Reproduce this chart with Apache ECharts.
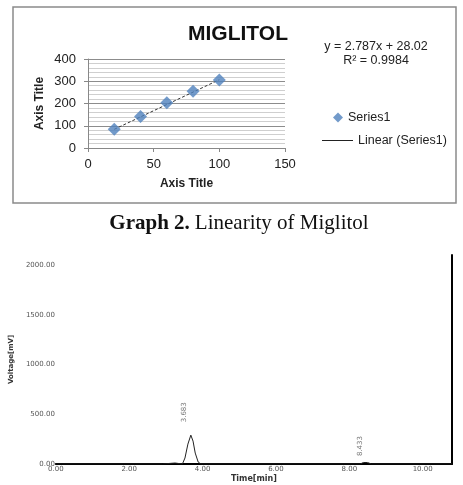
<!DOCTYPE html>
<html>
<head>
<meta charset="utf-8">
<script src="https://cdn.jsdelivr.net/npm/echarts@6/dist/echarts.min.js"></script>
<style>
    html, body {margin: 0; padding: 0; background: #fff;}
    #chart {width: 463px; height: 485px;}
</style>
</head>
<body>
<div id="chart"></div>
<script>
// linearity data (concentration vs area)
var concentration = [20, 40, 60, 80, 100];
var peakArea = [84, 142, 203, 255, 306];
// trendline ends as drawn
var trendX = [20, 100];
var trendY = [84, 307];

// chromatogram trace, time in min, voltage in mV
var traceTime = [0, 2.9, 2.95, 3.25, 3.3, 3.45, 3.52, 3.6, 3.68, 3.74, 3.8, 3.88, 3.95, 8.3, 8.38, 8.43, 8.5, 8.6, 10.8];
var traceVolt = [0, 0, 10, 10, 0, 0, 60, 200, 290, 230, 110, 20, 0, 0, 15, 25, 15, 0, 0];
var peakTimes = [3.5, 8.3];
var peakLabelY = [520, 180];
var peakNames = ['3.683', '8.433'];

var chart = echarts.init(document.getElementById('chart'));

function makePoints(xs, ys) {
    var out = [];
    for (var i = 0; i < xs.length; i++) {
        out.push([xs[i], ys[i]]);
    }
    return out;
}

var sans = '"Liberation Sans", Arial, sans-serif';
var chromFont = '"DejaVu Sans", sans-serif';
var serif = '"Liberation Serif", "Times New Roman", serif';

chart.setOption({
    animation: false,
    title: [
        {
            text: 'MIGLITOL', left: 233, top: 19, textAlign: 'center',
            textStyle: {fontFamily: sans, fontSize: 21, fontWeight: 'bold', color: '#111'}
        },
        {
            text: 'y = 2.787x + 28.02', left: 371, top: 35, textAlign: 'center',
            textStyle: {fontFamily: sans, fontSize: 12.5, fontWeight: 'normal', color: '#222'}
        },
        {
            text: 'R² = 0.9984', left: 371, top: 49, textAlign: 'center',
            textStyle: {fontFamily: sans, fontSize: 12.5, fontWeight: 'normal', color: '#222'}
        },
        {
            text: '{b|Graph 2.} {n|Linearity of Miglitol}', left: 234, top: 208, textAlign: 'center',
            textStyle: {
                rich: {
                    b: {fontFamily: serif, fontSize: 21, fontWeight: 'bold', color: '#111'},
                    n: {fontFamily: serif, fontSize: 21, fontWeight: 'normal', color: '#111'}
                }
            }
        }
    ],
    graphic: [
        {
            type: 'rect', shape: {x: 13, y: 7, width: 443, height: 196},
            style: {fill: 'none', stroke: '#8a8a8a', lineWidth: 1.5}, silent: true
        }
    ],
    legend: [
        {
            orient: 'vertical', left: 328, top: 106,
            itemWidth: 10, itemHeight: 10,
            textStyle: {fontFamily: sans, fontSize: 12.5, color: '#222'},
            data: [{name: 'Series1', icon: 'diamond'}]
        },
        {
            orient: 'vertical', left: 317, top: 129,
            itemWidth: 31, itemHeight: 1,
            textStyle: {fontFamily: sans, fontSize: 12.5, color: '#222'},
            data: [{name: 'Linear (Series1)', icon: 'rect', itemStyle: {color: '#222'}}]
        }
    ],
    grid: [
        {left: 88, right: 178, top: 59, bottom: 337},
        {left: 53, right: 11, top: 255, bottom: 21}
    ],
    xAxis: [
        {
            type: 'value', gridIndex: 0, min: 0, max: 150, interval: 50,
            name: 'Axis Title', nameLocation: 'middle', nameGap: 30,
            nameTextStyle: {fontFamily: sans, fontSize: 12, fontWeight: 'bold', color: '#222'},
            axisLine: {lineStyle: {color: '#888'}},
            axisTick: {show: true, length: 4, lineStyle: {color: '#888'}},
            axisLabel: {fontFamily: sans, fontSize: 13, color: '#222', margin: 10},
            splitLine: {show: false}
        },
        {
            type: 'value', gridIndex: 1, min: 0, max: 10.8, interval: 2,
            name: 'Time[min]', nameLocation: 'middle', nameGap: 11,
            nameTextStyle: {fontFamily: chromFont, fontSize: 8, fontWeight: 'bold', color: '#333'},
            axisLine: {lineStyle: {color: '#000', width: 2}},
            axisTick: {show: false},
            axisLabel: {
                fontFamily: chromFont, fontSize: 7, color: '#555', margin: 2,
                formatter: function (v) {
                    return v % 2 === 0 ? v.toFixed(2) : '';
                }
            },
            splitLine: {show: false}
        }
    ],
    yAxis: [
        {
            type: 'value', gridIndex: 0, min: 0, max: 400, interval: 100,
            name: 'Axis Title', nameLocation: 'middle', nameGap: 42,
            nameTextStyle: {fontFamily: sans, fontSize: 12, fontWeight: 'bold', color: '#222'},
            axisLine: {show: true, lineStyle: {color: '#888'}},
            axisTick: {show: true, length: 4, lineStyle: {color: '#888'}},
            axisLabel: {fontFamily: sans, fontSize: 13, color: '#222', margin: 12},
            splitLine: {show: true, lineStyle: {color: '#8c8c8c', width: 1}},
            minorTick: {show: false, splitNumber: 5},
            minorSplitLine: {show: true, lineStyle: {color: '#cfcfcf', width: 1}}
        },
        {
            type: 'value', gridIndex: 1, min: 0, max: 2100, interval: 500,
            name: 'Voltage[mV]', nameLocation: 'middle', nameGap: 37,
            nameTextStyle: {fontFamily: chromFont, fontSize: 7, fontWeight: 'bold', color: '#333'},
            axisLine: {show: false},
            axisTick: {show: false},
            axisLabel: {
                fontFamily: chromFont, fontSize: 7, color: '#555', margin: 1,
                formatter: function (v) {
                    return v % 500 === 0 ? v.toFixed(2) : '';
                }
            },
            splitLine: {show: false}
        },
        {
            type: 'value', gridIndex: 1, min: 0, max: 2100, position: 'right',
            axisLine: {show: true, lineStyle: {color: '#000', width: 2}},
            axisTick: {show: false},
            axisLabel: {show: false},
            splitLine: {show: false}
        }
    ],
    series: [
        {
            name: 'Linear (Series1)', type: 'line', xAxisIndex: 0, yAxisIndex: 0,
            data: makePoints(trendX, trendY), symbol: 'none',
            lineStyle: {color: '#333', width: 1, type: [3, 2]},
            itemStyle: {color: '#333'}, z: 3
        },
        {
            name: 'Series1', type: 'scatter', xAxisIndex: 0, yAxisIndex: 0,
            data: makePoints(concentration, peakArea), symbol: 'diamond', symbolSize: 13,
            itemStyle: {color: '#4f81bd'}, z: 4
        },
        {
            name: 'trace', type: 'line', xAxisIndex: 1, yAxisIndex: 1,
            data: makePoints(traceTime, traceVolt), symbol: 'none',
            lineStyle: {color: '#222', width: 1}
        },
        {
            name: 'peaks', type: 'scatter', xAxisIndex: 1, yAxisIndex: 1,
            data: makePoints(peakTimes, peakLabelY), symbolSize: 0,
            label: {
                show: true, position: 'inside', rotate: 90,
                fontFamily: chromFont, fontSize: 7, color: '#555',
                formatter: function (p) {
                    return peakNames[p.dataIndex];
                }
            }
        }
    ]
});
</script>
</body>
</html>
